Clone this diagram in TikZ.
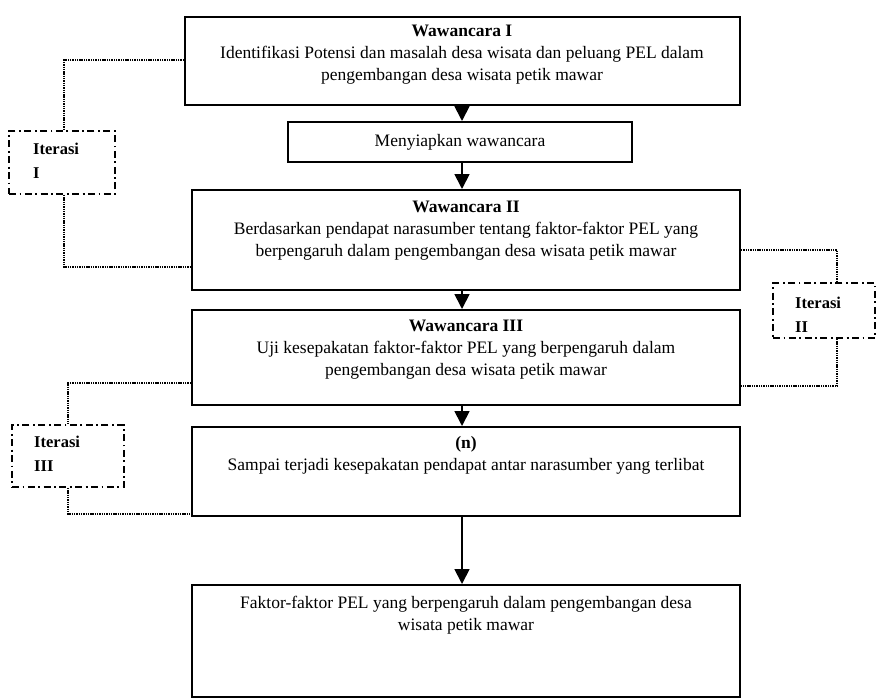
\documentclass[tikz,border=0pt]{standalone}
\usepackage{fontspec}
\setmainfont{Liberation Serif}
\usetikzlibrary{arrows.meta}
\begin{document}
\begin{tikzpicture}[x=1pt,y=-1pt,
  box/.style={draw, line width=2pt, inner sep=0pt},
  txt/.style={align=center, font=\fontsize{17.5}{22}\selectfont, inner sep=0pt},
  itbox/.style={draw, line width=1.6pt, dash pattern=on 7pt off 3.5pt on 1.8pt off 3.5pt, inner sep=0pt},
  ittxt/.style={align=left, anchor=north west, font=\fontsize{16.5}{24}\selectfont\bfseries, inner sep=0pt},
  dotline/.style={line width=2pt, dash pattern=on 1.4pt off 0.9pt},
  arr/.style={line width=1.8pt, -{Triangle[length=15pt,width=15pt]}}]
\useasboundingbox (0,0) rectangle (877,699);
% main boxes
\node[box, minimum width=555pt, minimum height=88pt] (b1) at (462.5,61) {};
\node[box, minimum width=344pt, minimum height=40pt] (b2) at (460,142) {};
\node[box, minimum width=548pt, minimum height=100pt] (b3) at (466,240) {};
\node[box, minimum width=548pt, minimum height=95pt] (b4) at (466,357.5) {};
\node[box, minimum width=548pt, minimum height=89pt] (b5) at (466,471.5) {};
\node[box, minimum width=548pt, minimum height=112pt] (b6) at (466,641) {};
% texts
\node[txt] (t1) at (462,55) {\textbf{Wawancara I}\\Identifikasi Potensi dan masalah desa wisata dan peluang PEL dalam\\pengembangan desa wisata petik mawar};
\node[txt] (t2) at (460,142) {Menyiapkan wawancara};
\node[txt] (t3) at (466,231) {\textbf{Wawancara II}\\Berdasarkan pendapat narasumber tentang faktor-faktor PEL yang\\berpengaruh dalam pengembangan desa wisata petik mawar};
\node[txt] (t4) at (466,350) {\textbf{Wawancara III}\\Uji kesepakatan faktor-faktor PEL yang berpengaruh dalam\\pengembangan desa wisata petik mawar};
\node[txt] (t5) at (466,455.5) {\textbf{(n)}\\Sampai terjadi kesepakatan pendapat antar narasumber yang terlibat};
\node[txt] (t6) at (466,615) {Faktor-faktor PEL yang berpengaruh dalam pengembangan desa\\wisata petik mawar};
% arrows
\draw[arr] (b1.south -| 462,0) -- (b2.north -| 462,0);
\draw[arr] (b2.south -| 462,0) -- (b3.north -| 462,0);
\draw[arr] (b3.south -| 462,0) -- (b4.north -| 462,0);
\draw[arr] (b4.south -| 462,0) -- (b5.north -| 462,0);
\draw[arr] (b5.south -| 462,0) -- (b6.north -| 462,0);
% iterasi boxes
\node[itbox, minimum width=106pt, minimum height=63pt] (i1) at (62,162.5) {};
\node[ittxt] (i1t) at (33,143) {Iterasi\\I};
\node[itbox, minimum width=102pt, minimum height=55pt] (i2) at (824,310.5) {};
\node[ittxt] (i2t) at (795,297) {Iterasi\\II};
\node[itbox, minimum width=112pt, minimum height=62pt] (i3) at (68,456) {};
\node[ittxt] (i3t) at (34,436) {Iterasi\\III};
% connector coordinates
\coordinate (a1) at (64,60);
\coordinate (a2) at (64,267);
\coordinate (e3) at (b3.west |- 0,267);
\coordinate (a3) at (837,250);
\coordinate (a4) at (837,386);
\coordinate (a5) at (68,383);
\coordinate (a6) at (68,514);
% dotted connectors
\draw[dotline] (b1.west |- a1) -- (a1) -- (i1.north -| a1);
\draw[dotline] (i1.south -| a2) -- (a2) -- (e3);
\draw[dotline] (b3.east |- a3) -- (a3) -- (i2.north -| a3);
\draw[dotline] (i2.south -| a4) -- (a4) -- (b4.east |- a4);
\draw[dotline] (b4.west |- a5) -- (a5) -- (i3.north -| a5);
\draw[dotline] (i3.south -| a6) -- (a6) -- (b5.west |- a6);
\end{tikzpicture}
\end{document}
